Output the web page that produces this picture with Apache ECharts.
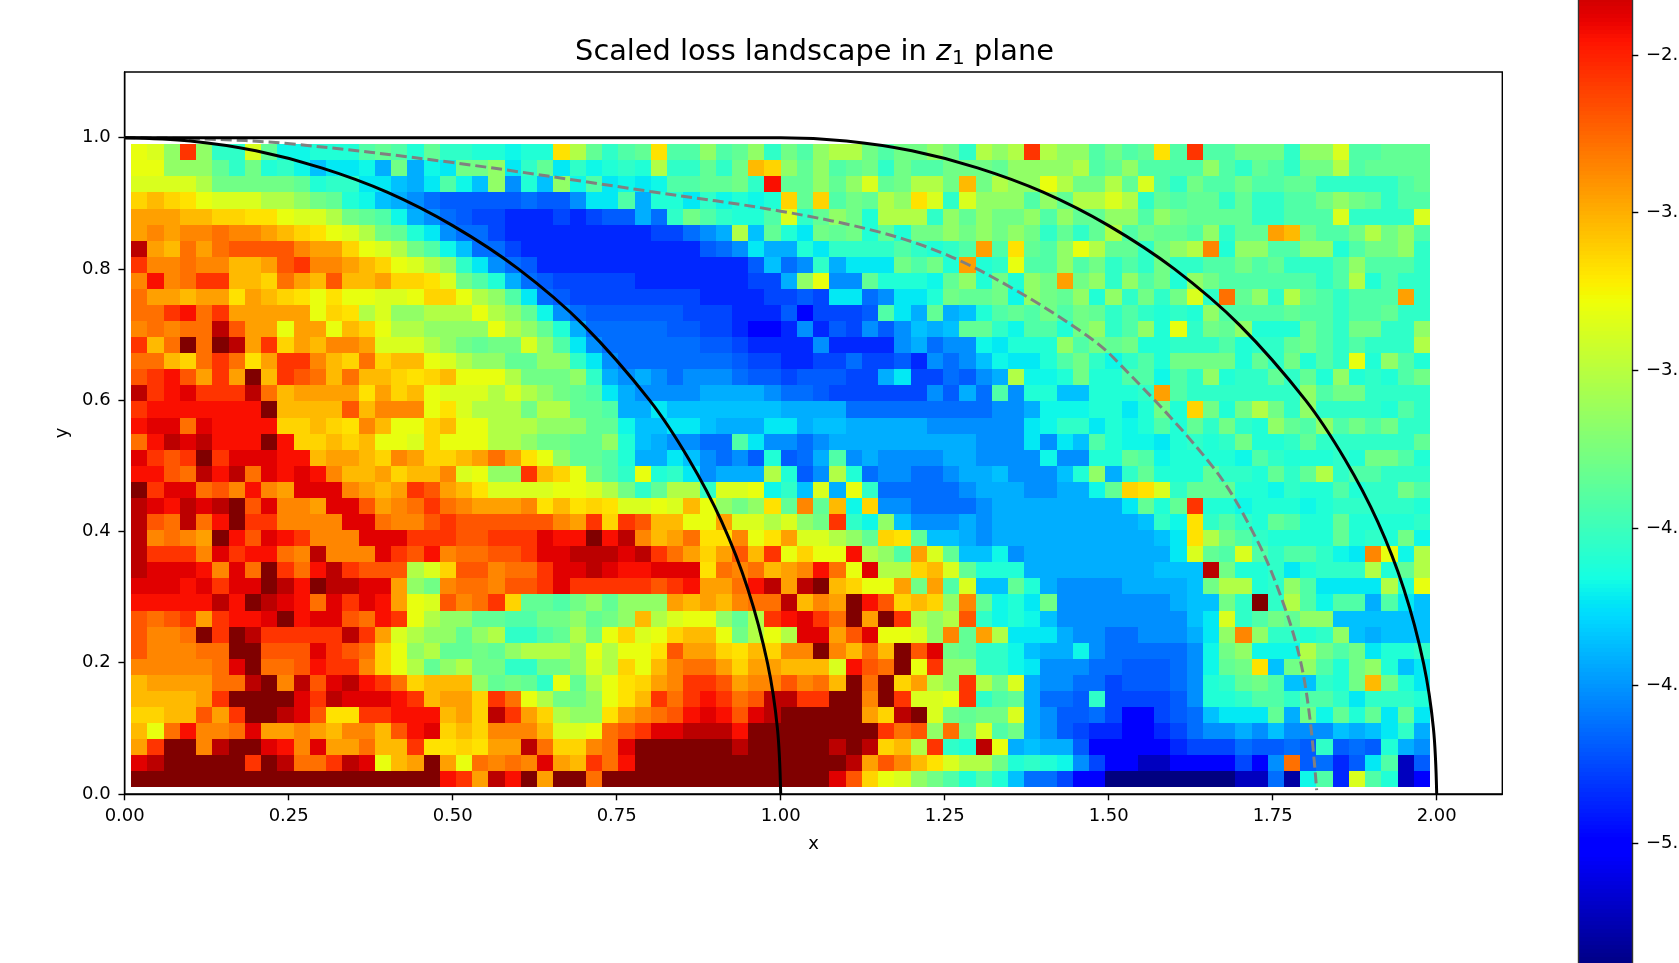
<!DOCTYPE html>
<html><head><meta charset="utf-8"><title>Scaled loss landscape</title>
<style>html,body{margin:0;padding:0;background:#fff;overflow:hidden}#c{width:1679px;height:963px}</style>
<script src="https://cdn.jsdelivr.net/npm/echarts@6/dist/echarts.min.js"></script>
</head><body><div id="c"></div><script>
// Colour levels, top row (y≈0.98) first; lossAtLevel gives the loss of each level
const lossAtLevel={21:-2.09,22:-2.26,23:-2.37,24:-2.44,25:-2.57,26:-2.69,27:-2.78,28:-2.86,29:-2.95,30:-3.04,31:-3.13,32:-3.18,33:-3.31,34:-3.37,35:-3.53,36:-3.66,37:-3.79,38:-3.85,39:-3.92,40:-4.05,41:-4.11,42:-4.18,43:-4.23,44:-4.36,45:-4.42,46:-4.52,47:-4.63,48:-4.69,49:-4.76,50:-4.86,51:-5.0,52:-5.22,53:-5.30,54:-5.40};
const row00=[33,34,36,25,36,40,40,34,38,42,42,41,41,41,39,38,39,41,38,40,40,41,41,42,41,41,32,35,38,40,39,38,32,39,39,36,39,38,36,40,37,39,36,35,35,37,39,37,37,36,37,40,35,36,35,25,35,36,36,39,37,39,38,32,39,25,39,39,37,37,37,40,36,36,34,39,39,38,38,38];
const row01=[33,33,36,36,36,38,40,37,41,40,42,44,43,43,42,45,37,45,42,43,37,37,36,43,40,38,43,40,42,41,40,41,35,40,40,38,40,37,30,31,36,38,36,39,38,37,40,37,39,39,37,37,37,38,36,36,36,36,35,39,38,36,39,39,39,39,36,39,40,38,39,40,37,37,35,39,38,38,38,38];
const row02=[34,34,34,34,35,37,37,37,37,37,38,41,40,40,43,43,44,45,43,39,42,44,36,46,41,44,36,42,39,43,42,43,42,39,39,38,38,37,40,24,38,38,36,38,36,34,38,37,35,35,37,30,37,35,36,36,33,35,37,37,35,38,34,39,40,37,39,39,37,39,39,38,38,40,40,40,40,40,39,38];
const row03=[31,30,31,32,33,34,34,34,35,35,36,37,38,41,42,44,45,46,47,48,48,48,48,48,47,48,48,46,43,43,39,45,41,41,43,40,42,41,42,41,31,38,31,39,37,38,35,36,32,34,40,34,36,36,36,39,36,38,35,35,34,35,40,38,39,38,38,40,38,40,40,39,39,37,36,37,38,40,39,39];
const row04=[29,29,29,30,30,31,31,32,32,33,34,34,35,37,38,39,42,45,46,47,48,49,49,50,50,50,49,50,49,48,48,45,47,40,37,39,40,41,41,39,34,40,38,36,37,41,35,35,35,40,36,38,36,37,37,36,39,36,38,38,36,36,39,36,37,38,38,38,38,40,40,39,39,39,34,40,40,40,40,34];
const row05=[29,28,29,28,28,27,28,28,29,30,31,32,33,34,35,37,38,41,43,46,47,47,49,50,50,50,50,50,50,50,50,50,49,49,47,46,45,35,44,38,41,43,37,38,37,41,38,41,37,37,36,37,36,37,36,37,40,38,40,38,35,39,37,38,38,39,36,40,38,38,29,30,37,39,39,37,35,37,36,39];
const row06=[22,29,30,27,29,27,26,26,26,26,28,29,29,31,33,34,35,37,39,42,44,47,47,49,50,50,50,50,50,50,50,50,50,50,50,48,47,46,43,45,45,41,43,40,40,40,40,39,40,41,40,39,29,39,32,38,39,36,33,35,38,38,40,37,36,35,28,41,36,36,39,39,36,36,41,39,37,37,36,40];
const row07=[25,28,28,27,28,28,30,30,29,26,25,28,28,29,30,31,33,34,35,36,40,43,46,47,48,50,50,50,50,50,50,50,50,50,50,50,50,50,48,44,47,46,40,45,43,43,43,37,39,37,41,29,41,40,33,39,39,36,39,37,40,39,40,37,40,40,39,39,37,39,38,40,40,40,39,36,39,39,39,40];
const row08=[28,24,28,27,25,25,30,30,31,27,29,30,26,30,30,29,31,31,32,34,37,39,41,45,47,48,49,49,49,49,49,50,50,50,50,50,50,50,49,49,45,36,33,46,46,38,41,41,41,42,38,36,41,37,41,36,37,29,37,36,40,36,39,37,41,36,37,39,39,39,39,39,39,40,39,35,41,39,40,40];
const row09=[27,29,29,30,29,29,32,29,30,31,32,33,32,33,33,34,34,33,31,31,33,35,36,39,43,47,48,49,49,49,49,49,49,49,49,50,50,50,50,49,49,48,49,43,43,47,46,43,43,41,37,38,38,37,42,36,37,38,36,41,36,40,37,40,37,34,40,27,38,36,40,35,38,39,40,39,39,39,29,40];
const row10=[27,27,25,24,27,25,29,29,29,29,29,33,31,32,35,34,36,36,35,35,35,33,35,36,38,42,46,47,48,48,48,48,48,48,49,49,49,50,50,50,48,51,49,49,49,48,39,43,45,38,45,44,41,39,38,39,37,39,37,38,40,39,40,41,40,41,36,39,39,39,39,38,39,39,40,39,39,38,40,40];
const row11=[28,27,28,27,27,22,26,29,29,33,29,29,33,30,31,33,35,35,36,36,36,36,33,35,36,38,41,45,47,47,47,47,47,48,48,49,49,50,51,51,50,46,50,48,49,46,48,46,44,45,44,38,38,40,42,39,39,41,37,36,40,39,36,41,33,40,37,38,36,41,41,41,37,39,40,37,37,40,40,36];
const row12=[25,30,27,21,27,21,22,29,25,31,29,30,28,28,29,34,34,34,35,36,37,38,37,37,34,36,39,43,46,47,47,47,47,47,47,48,48,49,50,50,50,50,46,50,50,50,50,46,45,47,46,46,42,43,41,41,41,36,39,37,38,37,41,41,40,40,40,39,41,40,40,38,37,39,40,39,40,40,40,35];
const row13=[27,27,30,31,27,25,27,32,29,25,25,28,30,31,27,31,30,30,33,34,35,36,36,38,38,36,36,40,43,46,47,47,47,47,47,47,47,48,49,49,50,50,49,49,47,49,49,48,50,46,47,46,44,42,43,43,41,39,37,40,42,40,39,41,37,37,37,37,41,38,40,37,41,39,40,33,41,36,39,41];
const row14=[26,25,24,26,29,25,29,21,30,25,26,27,30,27,30,30,31,32,31,30,33,33,33,35,37,37,37,36,40,45,46,45,46,47,46,46,46,47,48,48,49,48,48,48,49,49,45,43,49,49,47,48,46,45,35,42,42,41,37,41,41,39,39,42,39,40,36,41,40,40,38,40,38,41,36,41,40,41,39,37];
const row15=[22,25,24,23,25,25,25,22,27,30,29,29,29,29,32,29,31,30,33,34,34,34,35,34,35,36,37,38,39,43,45,46,46,46,46,45,45,45,45,46,47,47,48,49,49,49,49,49,49,46,48,45,47,39,46,41,41,44,44,41,41,41,40,29,39,40,40,40,40,40,40,40,36,39,37,37,40,40,40,40];
const row16=[25,24,24,24,24,24,24,24,21,30,30,30,30,26,30,28,28,28,33,32,34,35,35,35,37,35,35,38,38,39,45,45,43,44,44,44,44,44,44,44,45,45,45,45,47,47,47,47,47,47,47,47,47,46,46,45,42,42,42,41,41,43,41,37,41,31,37,41,37,35,37,40,36,40,40,40,40,41,39,40];
const row17=[24,23,23,27,23,24,24,24,24,31,31,30,31,32,28,30,33,33,31,30,33,33,35,35,35,36,36,36,38,38,42,44,44,43,43,44,45,45,45,43,43,45,44,44,45,45,45,45,45,46,46,46,46,46,46,43,42,40,40,43,41,42,41,39,41,38,40,37,40,41,36,38,39,36,39,37,39,37,40,40];
const row18=[27,24,22,23,22,24,24,24,21,24,31,31,30,31,30,33,33,34,31,33,33,33,35,35,36,37,37,38,38,36,41,44,45,46,46,47,47,39,43,46,46,47,46,45,45,45,45,45,45,45,45,45,46,46,46,43,46,43,44,39,41,42,42,43,41,40,41,40,37,41,41,40,38,40,40,40,40,40,40,38];
const row19=[23,25,26,25,21,25,23,23,23,24,24,30,29,29,30,31,28,29,31,31,30,29,27,29,32,33,36,38,38,39,41,45,45,43,44,46,47,46,48,41,48,47,45,39,46,45,46,46,46,46,45,45,46,46,46,46,42,46,46,41,41,38,39,42,41,41,41,41,42,39,40,41,41,41,40,41,37,37,39,41];
const row20=[24,24,26,27,22,24,22,27,23,24,23,24,28,30,30,29,31,30,30,28,34,33,36,36,25,30,31,33,37,39,40,33,41,40,43,46,45,45,45,35,41,48,46,35,41,47,46,46,47,47,46,45,45,44,46,46,46,44,41,36,45,40,38,41,41,41,38,40,40,41,38,40,38,35,40,39,39,40,40,40];
const row21=[21,25,23,23,27,26,28,24,28,29,23,23,23,28,29,30,29,25,26,29,30,32,34,34,34,34,33,33,34,35,37,40,38,35,35,40,34,34,33,42,40,44,34,45,33,40,47,47,47,47,47,46,45,45,45,46,46,45,45,42,38,31,32,34,40,38,38,38,41,41,42,40,41,41,39,41,40,40,37,39];
const row22=[22,23,24,22,23,22,21,26,23,28,28,29,23,23,26,29,28,27,25,27,28,29,29,29,28,32,30,32,31,32,34,34,33,34,30,33,36,37,36,32,38,28,38,30,42,31,46,46,47,47,47,47,46,45,45,45,45,45,45,45,45,43,38,41,38,25,41,41,42,41,41,41,42,41,40,40,40,40,40,41];
const row23=[22,26,27,22,27,24,21,25,25,28,28,28,28,23,23,27,28,28,26,25,26,26,26,26,26,26,28,29,25,31,25,26,30,30,33,33,29,34,34,35,34,36,37,25,40,42,36,44,46,46,46,45,46,45,45,45,45,45,45,45,45,45,44,40,42,32,40,39,40,41,38,39,41,41,38,41,41,41,41,40];
const row24=[22,28,27,28,29,21,24,26,23,24,25,28,28,28,23,23,23,25,25,25,26,26,25,25,25,23,24,24,21,24,22,28,30,29,27,32,32,28,33,32,29,34,34,35,36,38,31,32,38,44,44,45,46,45,45,45,45,45,45,45,45,45,45,44,43,32,35,37,39,40,41,41,41,41,38,41,40,41,37,42];
const row25=[22,25,25,25,28,23,25,24,24,27,28,22,28,28,28,23,25,26,24,28,27,27,26,26,25,23,23,22,22,22,23,22,25,27,29,31,29,26,30,25,33,31,33,33,24,35,36,39,29,34,38,44,44,42,46,45,45,45,45,45,45,45,45,45,43,34,38,39,34,39,40,39,39,40,42,43,28,33,42,35];
const row26=[22,23,23,23,24,28,23,27,21,25,27,24,22,25,26,26,26,35,34,31,26,26,28,27,27,25,23,23,22,23,24,24,23,23,23,32,27,28,27,30,29,28,24,27,33,23,35,35,31,30,34,38,41,41,41,45,45,45,45,45,45,45,45,44,44,44,22,37,41,41,40,43,41,40,40,40,35,41,38,35];
const row27=[23,23,23,24,23,25,23,23,21,22,24,21,22,22,23,23,29,36,37,28,27,27,28,26,26,25,23,25,25,25,25,25,26,25,24,29,29,27,24,22,29,22,21,30,31,33,33,29,37,29,39,34,44,44,38,41,45,46,46,46,46,45,45,45,45,44,37,35,35,41,40,36,39,43,43,43,43,35,41,33];
const row28=[24,24,24,24,24,22,24,21,22,23,24,27,23,25,23,24,29,33,34,26,28,27,25,31,38,38,39,37,36,38,36,36,36,29,30,29,30,28,27,27,22,30,28,29,21,24,26,31,30,31,36,28,38,42,41,43,37,46,46,46,46,46,46,46,45,44,44,37,40,21,40,35,39,42,39,39,45,39,43,44];
const row29=[26,27,26,25,29,25,24,24,23,21,24,23,23,26,27,24,25,33,35,36,36,38,38,39,39,37,37,36,38,37,36,30,35,34,33,33,36,38,35,25,24,23,25,27,21,29,21,25,35,36,35,26,40,42,41,42,44,46,46,46,46,46,46,46,46,44,43,34,40,39,37,38,36,36,44,44,44,44,44,44];
const row30=[26,28,28,27,21,25,21,22,25,25,25,25,25,22,25,29,34,35,36,36,38,36,35,40,40,39,38,35,37,33,31,34,33,31,30,30,33,37,35,33,35,23,23,29,26,23,33,33,34,36,28,38,29,35,43,43,43,45,46,46,47,47,46,46,46,45,43,36,28,36,40,40,41,40,36,44,45,44,44,44];
const row31=[26,28,28,28,27,27,21,21,26,26,26,23,25,26,27,31,33,36,35,38,38,37,38,36,35,35,35,36,33,35,33,33,32,26,29,29,31,32,30,31,28,28,21,28,30,27,30,21,26,23,37,38,40,40,42,44,45,45,42,46,47,47,47,47,47,46,42,37,36,42,42,42,35,37,39,37,43,41,41,40];
const row32=[28,28,28,28,28,27,23,21,27,27,26,24,25,25,28,31,33,35,38,36,35,37,37,40,40,37,37,36,34,35,31,33,30,28,27,27,29,31,29,29,30,30,30,34,24,26,27,21,33,25,36,36,40,40,42,43,46,46,46,47,47,48,48,48,47,46,42,38,37,32,44,37,36,39,41,37,36,41,44,43];
const row33=[30,29,29,29,29,27,27,22,21,28,22,26,23,22,24,25,27,31,30,30,30,36,38,37,38,40,33,38,35,33,32,31,29,28,25,25,26,29,28,28,26,28,27,30,21,27,21,31,29,35,36,25,35,37,34,45,46,46,47,47,49,48,48,48,47,46,41,40,38,37,39,44,44,40,41,37,30,37,41,43];
const row34=[30,30,30,30,29,25,21,21,21,21,23,25,22,23,23,23,24,25,30,29,29,31,25,27,33,35,37,37,36,33,32,30,25,27,25,24,25,27,26,22,22,25,25,21,21,28,21,25,34,34,33,25,40,39,38,45,47,47,48,40,49,49,49,49,48,46,41,41,40,39,39,40,39,39,40,43,40,40,40,41];
const row35=[31,31,30,30,26,29,25,21,21,22,23,26,32,32,25,25,24,24,24,30,29,31,22,25,29,31,35,36,36,32,29,28,27,26,24,23,24,26,23,22,21,21,21,21,21,29,31,22,21,34,37,38,37,37,34,45,46,48,48,47,49,51,51,49,48,47,44,43,43,43,38,45,37,42,38,41,38,43,38,43];
const row36=[30,33,27,24,28,28,27,23,29,29,28,29,30,28,28,30,26,24,23,31,30,31,28,28,28,30,34,34,33,27,26,25,23,23,22,22,22,24,21,21,21,21,21,21,21,21,25,27,26,36,27,37,34,39,37,45,46,48,49,50,50,51,51,50,49,47,46,46,45,46,44,46,46,46,44,45,44,43,40,45];
const row37=[29,25,21,21,28,22,21,21,23,24,28,23,29,29,27,30,30,25,32,32,31,32,29,29,22,27,31,31,28,27,23,21,21,21,21,21,21,22,21,21,21,21,21,22,21,22,31,30,35,25,40,41,22,33,45,44,45,45,48,51,51,51,51,51,50,49,49,49,47,48,48,47,48,40,48,47,48,41,45,46];
const row38=[23,22,21,21,21,21,21,25,21,22,27,27,25,22,23,33,30,29,21,29,33,27,28,27,28,23,29,30,25,27,24,21,21,21,21,21,21,21,21,21,21,21,21,21,22,29,26,28,30,32,34,35,35,37,41,40,41,42,46,49,51,51,52,52,51,51,51,51,49,51,46,27,48,47,50,48,43,39,52,48];
const row39=[21,21,21,21,21,21,21,21,21,21,21,21,21,21,21,21,21,21,21,24,25,29,22,24,21,29,21,21,27,21,21,21,21,21,21,21,21,21,21,21,21,21,21,23,26,31,33,34,36,37,39,41,39,41,44,47,47,49,51,51,54,54,54,54,54,54,54,54,52,52,47,53,42,39,50,34,39,41,52,51];
const gridRows=[row00,row01,row02,row03,row04,row05,row06,row07,row08,row09,row10,row11,row12,row13,row14,row15,row16,row17,row18,row19,row20,row21,row22,row23,row24,row25,row26,row27,row28,row29,row30,row31,row32,row33,row34,row35,row36,row37,row38,row39];
// Boundary curves
const innerX=[0,.1,.2,.3,.4,.5,.6,.7,.8,.86,.91,.95,.98,.995,1];
const innerY=[1,.995,.98,.954,.917,.866,.8,.714,.6,.51,.415,.312,.199,.1,0];
const outerX=[0,.5,.9,1,1.1,1.2,1.3,1.4,1.5,1.6,1.7,1.8,1.86,1.91,1.95,1.98,1.995,2];
const outerY=[1,1,1,1,.995,.98,.954,.917,.866,.8,.714,.6,.51,.415,.312,.199,.1,0];
const dashX=[0,.12,.248,.5,.801,1.0,1.151,1.254,1.354,1.456,1.507,1.659,1.726,1.766,1.792,1.807,1.817];
const dashY=[1,.998,.991,.962,.918,.888,.856,.821,.77,.706,.665,.498,.387,.291,.204,.113,.006];
const xTicks=[0,.25,.5,.75,1,1.25,1.5,1.75,2];
const yTicks=[0,.2,.4,.6,.8,1];
const cbarTicks=[-2.5,-3,-3.5,-4,-4.5,-5];
const xFirst=.01, xLast=1.99, yFirst=.01, yLast=.99;
const vMin=-5.4, vMax=-2.09;

const nx=gridRows[0].length, ny=gridRows.length;
const cw=(xLast-xFirst)/nx, ch=(yLast-yFirst)/ny;
const cells=[];
gridRows.forEach((r,j)=>r.forEach((v,i)=>cells.push([xFirst+(i+.5)*cw,yLast-(j+.5)*ch,lossAtLevel[v]])));
const zip=(a,b)=>a.map((v,i)=>[v,b[i]]);
function jet(f){
  const seg=(p,q)=>{for(let i=1;i<p.length;i++)if(f<=p[i])return q[i-1]+(q[i]-q[i-1])*(f-p[i-1])/(p[i]-p[i-1]);return q[q.length-1]};
  const r=seg([0,.35,.66,.89,1],[0,0,1,1,.5]),g=seg([0,.125,.375,.64,.91,1],[0,0,1,1,0,0]),b=seg([0,.11,.34,.65,1],[.5,1,1,0,0]);
  return `rgb(${Math.round(r*255)},${Math.round(g*255)},${Math.round(b*255)})`;
}
const jetColors=[];for(let i=0;i<=128;i++)jetColors.push(jet(i/128));
// colour bar strips: one strip per step of the colour scale
const stripN=260, stripH=(vMax-vMin)/stripN, strips=[];
for(let i=0;i<stripN;i++){const v=vMin+(i+.5)*stripH;strips.push([.5,v,v]);}
const F='"DejaVu Sans"';
const chart=echarts.init(document.getElementById('c'),null,{renderer:'canvas'});
const line=(c,w,t,data,z)=>({type:'line',xAxisIndex:0,yAxisIndex:0,data,showSymbol:false,smooth:.35,silent:true,animation:false,z,lineStyle:{color:c,width:w,type:t}});
const rectItem=(hw,hh)=>(p,api)=>{
  const x=api.value(0),y=api.value(1);
  const a=api.coord([x-hw,y+hh]),b=api.coord([x+hw,y-hh]);
  const x0=Math.round(a[0]),y0=Math.round(a[1]),x1=Math.round(b[0]),y1=Math.round(b[1]);
  return {type:'rect',shape:{x:x0,y:y0,width:x1-x0,height:y1-y0},style:{fill:api.visual('color')}};
};
chart.setOption({
  animation:false,backgroundColor:'#fff',
  title:{left:809.5,textAlign:'center',top:32,
    text:'{a|Scaled loss landscape in }{i|z}{s|1}{a| plane}',
    textStyle:{fontFamily:F,fontSize:28.8,fontWeight:'normal',color:'#000',rich:{
      a:{fontFamily:F,fontSize:28.8,color:'#000'},
      i:{fontFamily:F,fontSize:28.8,fontStyle:'italic',color:'#000'},
      s:{fontFamily:F,fontSize:20,color:'#000',padding:[12,0,0,1],verticalAlign:'bottom'}}}},
  grid:[{left:124.7,top:72,width:1377.6,height:722,show:true,borderColor:'#000',borderWidth:1.4,backgroundColor:'#fff',outerBoundsMode:'none'},
        {left:1578,top:-74,width:54,height:1043,show:false,outerBoundsMode:'none'}],
  xAxis:[{type:'value',gridIndex:0,min:0,max:2.1,name:'x',nameLocation:'middle',nameGap:41,nameTextStyle:{fontFamily:F,fontSize:18,color:'#000'},
      splitLine:{show:false},axisLine:{onZero:false,lineStyle:{color:'#000',width:1.4}},
      axisTick:{length:6.3,customValues:xTicks,lineStyle:{color:'#000',width:1.4}},
      axisLabel:{customValues:xTicks,formatter:v=>v.toFixed(2),fontFamily:F,fontSize:18,color:'#000',margin:13}},
    {type:'value',gridIndex:1,min:0,max:1,show:false}],
  yAxis:[{type:'value',gridIndex:0,min:0,max:1.1,name:'y',nameLocation:'middle',nameGap:52,nameTextStyle:{fontFamily:F,fontSize:18,color:'#000'},
      splitLine:{show:false},axisLine:{onZero:false,lineStyle:{color:'#000',width:1.4}},
      axisTick:{length:6.3,customValues:yTicks,lineStyle:{color:'#000',width:1.4}},
      axisLabel:{customValues:yTicks,formatter:v=>v.toFixed(1),fontFamily:F,fontSize:18,color:'#000',margin:14}},
    {type:'value',gridIndex:1,min:vMin,max:vMax,position:'right',splitLine:{show:false},z:6,
      axisLine:{show:true,onZero:false,lineStyle:{color:'#333',width:1.4}},
      axisTick:{length:6.3,customValues:cbarTicks,lineStyle:{color:'#000',width:1.4}},
      axisLabel:{customValues:cbarTicks,formatter:v=>'\u2212'+Math.abs(v).toFixed(1),fontFamily:F,fontSize:18,color:'#000',margin:14,hideOverlap:false}},
    {type:'value',gridIndex:1,min:vMin,max:vMax,position:'left',splitLine:{show:false},z:6,
      axisLine:{show:true,onZero:false,lineStyle:{color:'#333',width:1.4}},axisTick:{show:false},axisLabel:{show:false}}],
  visualMap:[{type:'continuous',show:false,seriesIndex:[0,1],dimension:2,min:vMin,max:vMax,inRange:{color:jetColors}}],
  series:[
    {type:'custom',xAxisIndex:0,yAxisIndex:0,data:cells,encode:{x:0,y:1},progressive:0,animation:false,silent:true,z:1,clip:true,renderItem:rectItem(cw/2,ch/2)},
    {type:'custom',xAxisIndex:1,yAxisIndex:1,data:strips,encode:{x:0,y:1},progressive:0,animation:false,silent:true,z:1,renderItem:rectItem(.5,stripH/2)},
    line('#808080',3,[11,5],zip(dashX,dashY),3),
    line('#000',3,'solid',zip(innerX,innerY),4),
    line('#000',3,'solid',zip(outerX,outerY),4)
  ]
});
</script></body></html>
